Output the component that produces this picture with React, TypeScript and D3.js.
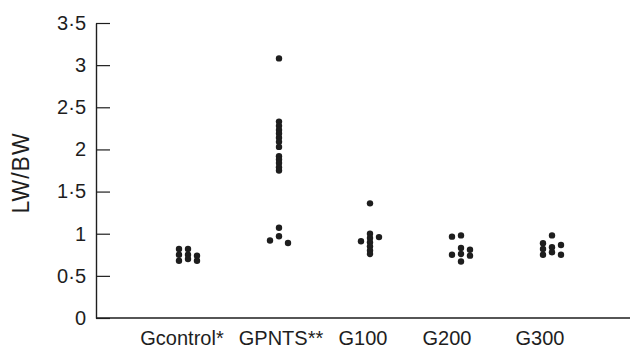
import React, { useRef, useEffect } from "react";
import * as d3 from "d3";

// categories and dot values, split into left / middle / right columns
const categories = ["Gcontrol*", "GPNTS**", "G100", "G200", "G300"];
const leftCol = [
  [0.82, 0.75, 0.68],
  [0.92],
  [0.91],
  [0.965, 0.75],
  [0.886, 0.82, 0.75],
];
const midCol = [
  [0.82, 0.75, 0.7],
  [3.08, 2.33, 2.28, 2.23, 2.19, 2.14, 2.09, 2.03, 1.92, 1.88, 1.84, 1.79, 1.75, 1.07, 0.97],
  [1.36, 1.0, 0.95, 0.9, 0.85, 0.8, 0.76],
  [0.98, 0.83, 0.76, 0.67],
  [0.98, 0.84, 0.78],
];
const rightCol = [
  [0.74, 0.68],
  [0.89],
  [0.96],
  [0.81, 0.74],
  [0.866, 0.75],
];
const yTicks = [0, 0.5, 1, 1.5, 2, 2.5, 3, 3.5];

const App = () => {
  const svgRef = useRef<SVGSVGElement>(null);

  useEffect(() => {
    document.body.style.margin = "0";
    const svg = d3.select(svgRef.current);
    svg.selectAll("*").remove();

    const width = 634;
    const height = 350;
    const axisLeft = 96;
    const axisRight = 630;
    const top = 23;
    const bottom = 318;
    const colGap = 9;
    const labelShift = [-6, 2, -7, -14, -12];
    const font = "'Liberation Sans', Arial, sans-serif";
    const ink = "#1e1e1e";

    svg.attr("width", width).attr("height", height);

    const x = d3.scalePoint<string>().domain(categories).range([188, 552]);
    const y = d3.scaleLinear().domain([0, 3.5]).range([bottom, top]);

    const points: { cat: string; col: number; v: number }[] = [];
    categories.forEach((c, i) => {
      leftCol[i].forEach((v) => points.push({ cat: c, col: -1, v }));
      midCol[i].forEach((v) => points.push({ cat: c, col: 0, v }));
      rightCol[i].forEach((v) => points.push({ cat: c, col: 1, v }));
    });

    // y axis with inward ticks
    const yAxis = svg
      .append("g")
      .attr("transform", `translate(${axisLeft},0)`)
      .call(
        d3
          .axisLeft(y)
          .tickValues(yTicks)
          .tickSizeInner(-14)
          .tickSizeOuter(0)
          .tickPadding(10)
          .tickFormat((d) => String(d).replace(".", "·"))
      );
    yAxis.select(".domain").attr("stroke", ink).attr("stroke-width", 1.4);
    yAxis.selectAll(".tick line").attr("stroke", ink).attr("stroke-width", 1.2);
    yAxis
      .selectAll(".tick text")
      .attr("fill", ink)
      .style("font-family", font)
      .style("font-size", "20px");

    // x axis line
    svg
      .append("line")
      .attr("x1", axisLeft)
      .attr("x2", axisRight)
      .attr("y1", bottom)
      .attr("y2", bottom)
      .attr("stroke", ink)
      .attr("stroke-width", 1.4);

    svg
      .append("g")
      .selectAll("text")
      .data(categories)
      .enter()
      .append("text")
      .attr("x", (d, i) => (x(d) as number) + labelShift[i])
      .attr("y", 345)
      .attr("text-anchor", "middle")
      .attr("fill", ink)
      .style("font-family", font)
      .style("font-size", "20px")
      .text((d) => d);

    // dots
    svg
      .append("g")
      .selectAll("circle")
      .data(points)
      .enter()
      .append("circle")
      .attr("cx", (d) => (x(d.cat) as number) + d.col * colGap)
      .attr("cy", (d) => y(d.v))
      .attr("r", 3.2)
      .attr("fill", ink);

    // y label
    svg
      .append("text")
      .attr("transform", `translate(29,173) rotate(-90)`)
      .attr("text-anchor", "middle")
      .attr("fill", ink)
      .style("font-family", font)
      .style("font-size", "23px")
      .style("letter-spacing", "1px")
      .text("LW/BW");
  }, []);

  return <svg ref={svgRef}></svg>;
};

export default App;
